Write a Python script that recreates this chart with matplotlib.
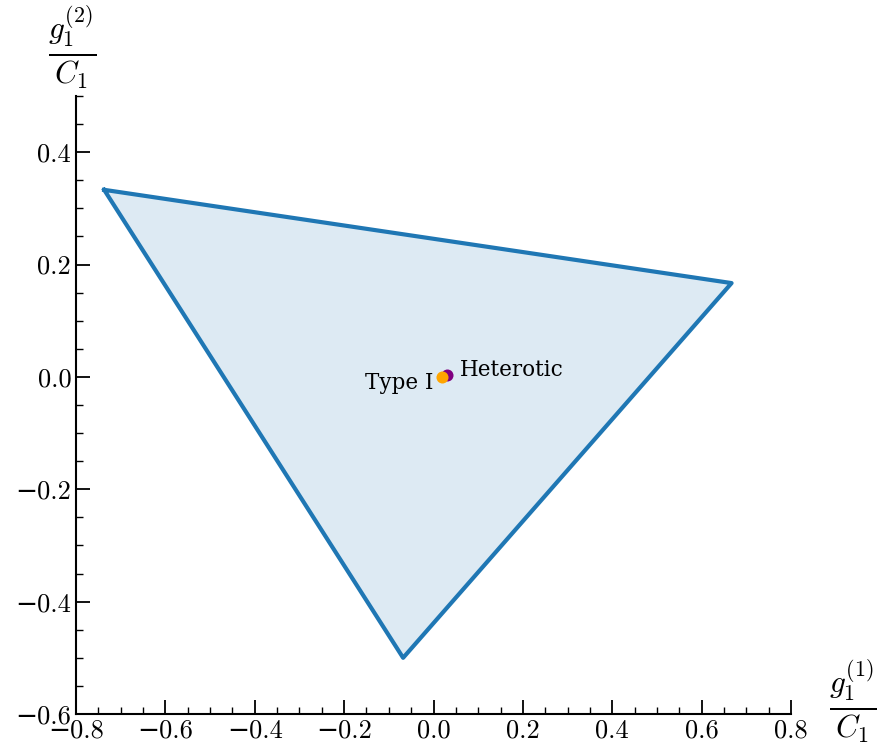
import matplotlib
matplotlib.use("Agg")
import matplotlib.pyplot as plt
from matplotlib.ticker import MultipleLocator

plt.rcParams['mathtext.fontset'] = 'cm'
plt.rcParams['font.family'] = 'DejaVu Serif'
plt.rcParams['axes.unicode_minus'] = True

# triangle vertices (g1^(1)/C1, g1^(2)/C1)
tri_x = [-0.737, 0.667, -0.068]
tri_y = [0.333, 0.167, -0.5]

# special points
het_x, het_y = 0.030, 0.004
typ_x, typ_y = 0.019, 0.0

fig = plt.figure(figsize=(8.77, 7.47), dpi=100)
ax = fig.add_axes([76 / 877, 33 / 747, 715 / 877, 618 / 747])

ax.fill(tri_x, tri_y, color='#1f77b4', alpha=0.15, lw=0)
ax.plot(tri_x + tri_x[:1], tri_y + tri_y[:1], color='#1f77b4', lw=3)

ax.scatter([het_x], [het_y], color='purple', s=75, zorder=3, lw=0)
ax.scatter([typ_x], [typ_y], color='orange', s=75, zorder=4, lw=0)
ax.text(het_x + 0.03, het_y - 0.011, 'Heterotic', fontsize=15.5, ha='left', va='bottom')
ax.text(typ_x - 0.02, typ_y - 0.03, 'Type I', fontsize=15.5, ha='right', va='bottom')

ax.set_xlim(-0.8, 0.8)
ax.set_ylim(-0.6, 0.5)
ax.xaxis.set_major_locator(MultipleLocator(0.2))
ax.xaxis.set_minor_locator(MultipleLocator(0.05))
ax.yaxis.set_major_locator(MultipleLocator(0.2))
ax.yaxis.set_minor_locator(MultipleLocator(0.05))
ax.set_yticks([-0.6, -0.4, -0.2, 0.0, 0.2, 0.4])

for s in ['top', 'right']:
    ax.spines[s].set_visible(False)
ax.spines['left'].set_linewidth(1.5)
ax.spines['bottom'].set_linewidth(1.5)
ax.tick_params(which='major', direction='in', length=10, width=1.3, labelsize=19)
ax.tick_params(which='minor', direction='in', length=5, width=1.0)
for lab in ax.get_xticklabels() + ax.get_yticklabels():
    lab.set_fontfamily(['cmr10', 'DejaVu Sans'])

fig.text(72 / 877, 1 - 48 / 747, r'$\frac{g_1^{(2)}}{C_1}$', fontsize=32, ha='center', va='center')
fig.text(853 / 877, 1 - 702 / 747, r'$\frac{g_1^{(1)}}{C_1}$', fontsize=32, ha='center', va='center')

fig.savefig('out.png', dpi=100)
